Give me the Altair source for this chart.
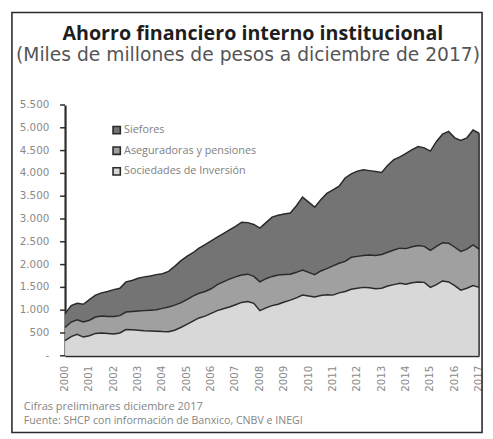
import altair as alt
import pandas as pd

# Quarterly time axis (year fractions), 2000 -> 2017
t = [2000 + 0.25 * i for i in range(69)]

sociedades = [330, 420, 470, 410, 440, 490, 500, 490, 480, 500, 575, 570, 560, 550, 545, 540,
              530, 525, 560, 620, 690, 760, 830, 870, 930, 990, 1030, 1070, 1120, 1170, 1190, 1150,
              990, 1050, 1100, 1130, 1180, 1220, 1270, 1330, 1310, 1290, 1320, 1340, 1330, 1380, 1410, 1460,
              1480, 1500, 1490, 1470, 1480, 1530, 1560, 1590, 1570, 1600, 1620, 1610, 1500, 1560, 1640, 1620,
              1540, 1440, 1480, 1540, 1500]
aseguradoras = [290, 320, 320, 330, 340, 360, 370, 370, 380, 380, 385, 400, 420, 440, 455, 470,
                510, 545, 550, 540, 540, 550, 540, 540, 540, 570, 590, 610, 610, 600, 600, 590,
                630, 640, 640, 640, 600, 570, 560, 550, 520, 490, 540, 570, 640, 650, 660, 700,
                700, 700, 720, 730, 740, 740, 760, 770, 780, 790, 800, 790, 810, 840, 840, 850,
                840, 850, 860, 890, 840]
siefores = [300, 360, 360, 390, 450, 480, 510, 550, 590, 600, 660, 680, 720, 740, 750, 770,
            760, 780, 850, 920, 950, 950, 990, 1030, 1050, 1040, 1060, 1080, 1110, 1160, 1130, 1140,
            1180, 1230, 1300, 1310, 1330, 1340, 1460, 1600, 1540, 1480, 1560, 1650, 1670, 1690, 1830, 1830,
            1870, 1880, 1850, 1840, 1800, 1910, 1980, 2000, 2090, 2130, 2170, 2160, 2180, 2300, 2380, 2450,
            2400, 2430, 2440, 2520, 2540]

series_names = ["Siefores", "Aseguradoras y pensiones", "Sociedades de Inversión"]
series_values = [siefores, aseguradoras, sociedades]
series_colors = ["#747474", "#a0a0a0", "#d8d8d8"]
stack_order = [2, 1, 0]

year_ticks = list(range(2000, 2018))
year_labels = [str(y) for y in year_ticks]
y_ticks = [0, 500, 1000, 1500, 2000, 2500, 3000, 3500, 4000, 4500, 5000, 5500]
y_labels = ["-", "500", "1.000", "1.500", "2.000", "2.500", "3.000", "3.500", "4.000", "4.500",
            "5.000", "5.500"]

rows = []
for name, vals, o in zip(series_names, series_values, stack_order):
    for ti, v in zip(t, vals):
        rows.append({"t": ti, "serie": name, "valor": v, "ord": o})
df = pd.DataFrame(rows)

W, H = 421, 255
OX, OY = 66, 103  # page position of plot origin (for overlay text/frame)

xscale = alt.Scale(domain=[2000, 2017], nice=False, zero=False)
yscale = alt.Scale(domain=[0, 5500], nice=False)
cscale = alt.Scale(domain=series_names, range=series_colors)

x_axis = alt.Axis(labels=False, ticks=False, grid=False, domainColor="#2a2a2a", domainWidth=2.2, title=None)
y_axis = alt.Axis(labels=False, ticks=False, grid=False, domainColor="#2a2a2a", domainWidth=2.2, title=None)

base = alt.Chart(df).transform_stack(
    stack="valor", as_=["y0", "y1"], groupby=["t"], sort=[alt.SortField("ord", order="ascending")]
)

area = base.mark_area(interpolate="linear").encode(
    x=alt.X("t:Q", scale=xscale, axis=x_axis),
    y=alt.Y("y0:Q", scale=yscale, axis=y_axis),
    y2="y1:Q",
    color=alt.Color("serie:N", scale=cscale, legend=alt.Legend(
        title=None, orient="none", legendX=47, legendY=20, symbolType="square", symbolSize=55,
        symbolStrokeColor="#2a2a2a", symbolStrokeWidth=1.6, symbolOpacity=1,
        labelFontSize=11, labelColor="#808080", labelFont="Open Sans", labelOffset=2,
        rowPadding=6, padding=0)),
    order=alt.Order("ord:Q"),
)

lines = base.mark_line(color="#2a2a2a", strokeWidth=1.5).encode(
    x=alt.X("t:Q", scale=xscale, axis=x_axis),
    y=alt.Y("y1:Q", scale=yscale, axis=y_axis),
    detail="serie:N",
)

last_total = siefores[-1] + aseguradoras[-1] + sociedades[-1]
edge = alt.Chart(pd.DataFrame({"t": [t[-1]], "y": [0], "y2": [last_total]})).mark_rule(
    color="#2a2a2a", strokeWidth=1.5).encode(
    x=alt.X("t:Q", scale=xscale, axis=x_axis),
    y=alt.Y("y:Q", scale=yscale, axis=y_axis),
    y2="y2:Q",
)

# y ticks and labels
ytick_df = pd.DataFrame({"v": y_ticks, "lab": y_labels})
yticks = alt.Chart(ytick_df).mark_rule(color="#2a2a2a", strokeWidth=1.5).encode(
    x=alt.value(-5), x2=alt.value(0), y=alt.Y("v:Q", scale=yscale, axis=y_axis))
ylabs = alt.Chart(ytick_df).mark_text(
    font="DejaVu Sans", fontSize=10.5, color="#8a8a8a", align="right", baseline="middle"
).encode(x=alt.value(50 - OX), y=alt.Y("v:Q", scale=yscale, axis=y_axis), text="lab:N")

# x labels (rotated)
xtick_df = pd.DataFrame({"v": year_ticks, "lab": year_labels})
xlabs = alt.Chart(xtick_df).mark_text(
    font="DejaVu Sans", fontSize=10.5, color="#8a8a8a", align="right", baseline="middle", angle=270
).encode(x=alt.X("v:Q", scale=xscale, axis=x_axis), y=alt.value(368 - OY), text="lab:N")

texts_df = pd.DataFrame({
    "txt": ["Ahorro financiero interno institucional",
            "(Miles de millones de pesos a diciembre de 2017)",
            "Cifras preliminares diciembre 2017",
            "Fuente: SHCP con información de Banxico, CNBV e INEGI"],
})
title = alt.Chart(texts_df.iloc[[0]]).mark_text(
    fontSize=20, fontWeight="bold", font="Open Sans", color="#1e1e1e", align="center", baseline="alphabetic"
).encode(x=alt.value(257 - OX), y=alt.value(37 - OY), text="txt:N")
subtitle = alt.Chart(texts_df.iloc[[1]]).mark_text(
    fontSize=19, font="DejaVu Sans", color="#555555", align="center", baseline="alphabetic"
).encode(x=alt.value(252 - OX), y=alt.value(58 - OY), text="txt:N")
foot1 = alt.Chart(texts_df.iloc[[2]]).mark_text(
    fontSize=11.2, font="Open Sans", color="#858585", align="left", baseline="alphabetic"
).encode(x=alt.value(24 - OX), y=alt.value(413 - OY), text="txt:N")
foot2 = alt.Chart(texts_df.iloc[[3]]).mark_text(
    fontSize=10.8, font="Open Sans", color="#858585", align="left", baseline="alphabetic"
).encode(x=alt.value(24 - OX), y=alt.value(427 - OY), text="txt:N")

# outer frame, in pixel coordinates relative to the plot origin (no scale)
frame_df = pd.DataFrame({"fx0": [12 - OX], "fx1": [490 - OX], "fy0": [9 - OY], "fy1": [436 - OY]})
frame = alt.Chart(frame_df).mark_rect(
    fillOpacity=0, fill="#ffffff", stroke="#2a2a2a", strokeWidth=1.6
).encode(
    x=alt.X("fx0:Q", scale=None, axis=None), x2="fx1:Q",
    y=alt.Y("fy0:Q", scale=None, axis=None), y2="fy1:Q",
)

chart = alt.layer(area, lines, edge, yticks, ylabs, xlabs, frame, title, subtitle, foot1, foot2).properties(
    width=W, height=H,
    autosize=alt.AutoSizeParams(type="none"),
    padding={"left": 58, "top": 95, "right": 6, "bottom": 80},
).configure_view(stroke=None)

chart.save("out.html", embed_options={"renderer": "svg", "actions": False})
